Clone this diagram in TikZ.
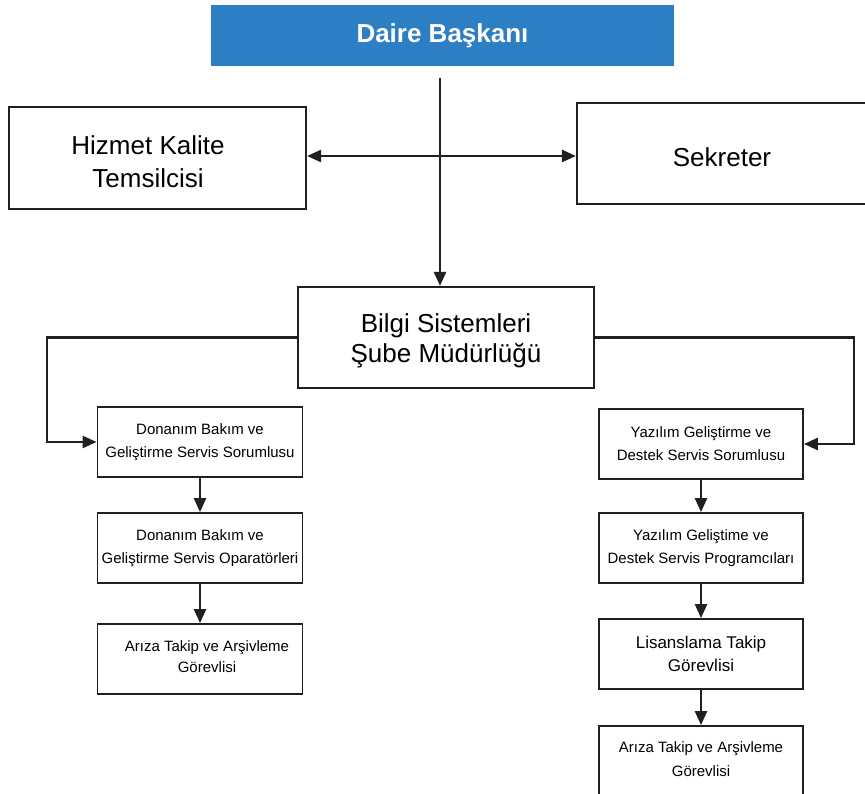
\documentclass[tikz,border=0pt]{standalone}
\usepackage{fontspec}
\setmainfont{Liberation Sans}
\usetikzlibrary{arrows.meta,calc}
\definecolor{ink}{HTML}{231F20}
\definecolor{headblue}{HTML}{2D7FC3}

\tikzset{
  bigbox/.style={draw=ink, line width=2.2pt, rectangle, inner sep=0pt, align=center},
  smallbox/.style={draw=ink, line width=1.8pt, rectangle, inner sep=0pt, align=center,
    minimum width=205pt, minimum height=70pt, font=\fontsize{15}{23}\selectfont},
  bigtext/.style={font=\fontsize{26}{31}\selectfont, align=center},
  tip/.tip={Triangle[length=14pt,width=12pt]},
  conn/.style={draw=ink, line width=2.5pt, -tip},
}

\begin{document}
\begin{tikzpicture}[x=1pt,y=-1pt]
\clip (0,0) rectangle (865,794);
\fill[white] (0,0) rectangle (865,794);

% head of department
\node[fill=headblue, minimum width=463pt, minimum height=61pt, inner sep=0pt,
      text=white, font=\bfseries\fontsize{26}{30}\selectfont] (head) at (442.5,35.5) {Daire Başkanı};

% staff positions
\node[bigbox, minimum width=297pt, minimum height=102pt] (hizmet) at (157.5,158) {};
\node[bigtext, font=\fontsize{26}{33}\selectfont] (hizmettext) at (148,162) {Hizmet Kalite\\Temsilcisi};
\node[bigbox, minimum width=291pt, minimum height=101pt] (sekreter) at (722.5,153.5) {};
\node[bigtext] (sekretertext) at (722,157) {Sekreter};

% branch directorate
\node[bigbox, minimum width=296pt, minimum height=101pt] (bilgi) at (446,337.5) {};
\node[font=\fontsize{26}{30}\selectfont, align=center] (bilgitext) at (446,341)
  {Bilgi Sistemleri\\Şube Müdürlüğü};

% hardware column
\node[smallbox] (L1) at (200,442) {Donanım Bakım ve\\Geliştirme Servis Sorumlusu};
\node[smallbox] (L2) at (200,548) {Donanım Bakım ve\\Geliştirme Servis Oparatörleri};
\node[smallbox] (L3) at (200,659) {};
\node[font=\fontsize{15}{21}\selectfont, align=center] (L3text) at (207,657) {Arıza Takip ve Arşivleme\\Görevlisi};

% software column
\node[smallbox, minimum width=204pt] (R1) at (701,444) {Yazılım Geliştirme ve\\Destek Servis Sorumlusu};
\node[smallbox, minimum width=204pt] (R2) at (701,548) {Yazılım Geliştime ve\\Destek Servis Programcıları};
\node[smallbox, minimum width=204pt, font=\fontsize{17}{23}\selectfont] (R3) at (701,654) {Lisanslama Takip\\Görevlisi};
\node[smallbox, minimum width=204pt, minimum height=71pt] (R4) at (701,761.5) {};
\node[font=\fontsize{15}{24}\selectfont, align=center] (R4text) at (701,759) {Arıza Takip ve Arşivleme\\Görevlisi};

% connectors
\coordinate (vstart) at (440,78);
\coordinate (cross) at (440,156);
\draw[conn] (vstart) -- (vstart |- bilgi.north);
\draw[conn, tip-tip] (cross -| hizmet.east) -- (cross -| sekreter.west);

\draw[conn] (bilgi.west) -- ++(-250,0) |- (L1.west);
\draw[conn] (bilgi.east) -- ++(259,0) |- (R1.east);

\draw[conn] (L1.south) -- (L2.north);
\draw[conn] (L2.south) -- (L3.north);

\draw[conn] (R1.south) -- (R2.north);
\draw[conn] (R2.south) -- (R3.north);
\draw[conn] (R3.south) -- (R4.north);
\end{tikzpicture}
\end{document}
